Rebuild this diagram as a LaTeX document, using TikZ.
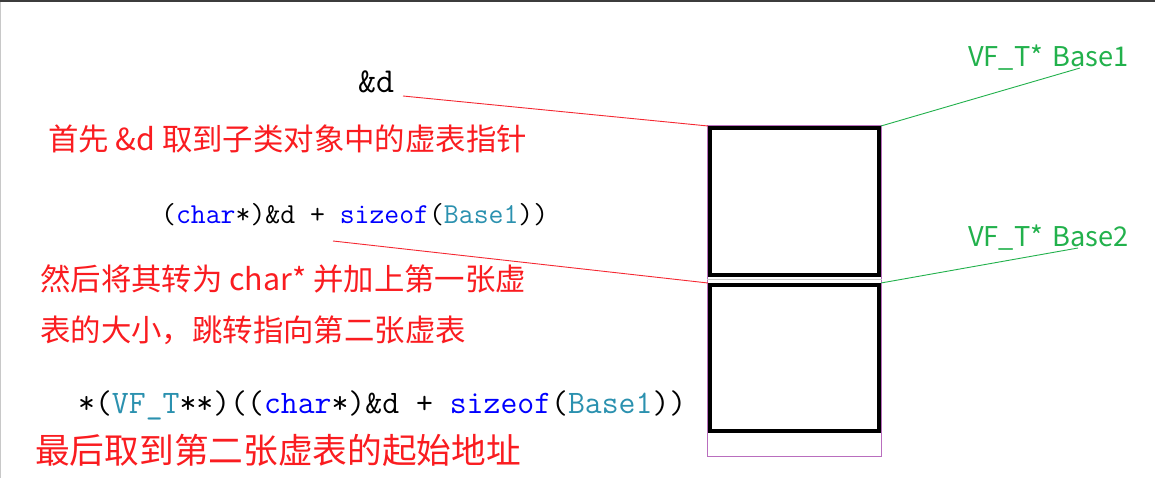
\documentclass[tikz,border=0pt]{standalone}
\usepackage{fontspec}
\newfontfamily\cjk{Noto Sans CJK SC}
\definecolor{cnred}{RGB}{250,28,32}
\definecolor{lnred}{RGB}{245,40,50}
\definecolor{lgreen}{RGB}{34,177,76}
\definecolor{kw}{RGB}{0,0,255}
\definecolor{ty}{RGB}{43,145,175}
\definecolor{framec}{RGB}{185,110,190}
\definecolor{topline}{RGB}{60,60,60}
\definecolor{sideline}{RGB}{200,200,200}
\begin{document}
\begin{tikzpicture}[x=1pt,y=-1pt,
  note/.style={anchor=base west, inner sep=0pt, text=cnred, font=\cjk\fontsize{30.4}{36}\selectfont},
  bignote/.style={note, font=\cjk\fontsize{34.7}{40}\selectfont},
  code/.style={anchor=base west, inner sep=0pt, font=\ttfamily\fontsize{28.9}{33}\selectfont},
  bigcode/.style={code, font=\ttfamily\fontsize{32.8}{37}\selectfont},
  tag/.style={anchor=base west, inner sep=0pt, text=lgreen, font=\cjk\fontsize{27.2}{32}\selectfont},
  slot/.style={draw=black, line width=4pt, inner sep=0pt},
  redlink/.style={draw=lnred, line width=0.9pt},
  greenlink/.style={draw=lgreen, line width=0.9pt}]
\useasboundingbox (0,0) rectangle (1155,478);
\fill[white] (0,0) rectangle (1155,478);
\draw[topline, line width=2pt] (0,1) -- (1155,1);
\draw[sideline, line width=1pt] (0.5,2) -- (0.5,478);

% memory layout
\node[draw=framec, line width=1pt, inner sep=0pt, minimum width=174pt, minimum height=331pt] (obj) at (794.5,291) {};
\draw[sideline, line width=1pt] (obj.west |- 0,279.5) -- (obj.east |- 0,279.5);
\node[slot, minimum width=169pt, minimum height=147pt] (vt1) at (794.5,201.5) {};
\node[slot, minimum width=169pt, minimum height=146pt] (vt2) at (794.5,358) {};

% texts
\node[code, font=\ttfamily\fontsize{35}{40}\selectfont] (amp) at (358,93) {\&d};
\node[note] (n1) at (48,151) {首先 \&d 取到子类对象中的虚表指针};
\node[code] (c1) at (161,223) {(\textcolor{kw}{char}*)\&d + \textcolor{kw}{sizeof}(\textcolor{ty}{Base1}))};
\node[note] (n2) at (40,290) {然后将其转为 char* 并加上第一张虚};
\node[note] (n3) at (40,341) {表的大小，跳转指向第二张虚表};
\node[bigcode] (c2) at (78,413) {*(\textcolor{ty}{VF\_T}**)((\textcolor{kw}{char}*)\&d + \textcolor{kw}{sizeof}(\textcolor{ty}{Base1}))};
\node[bignote] (n4) at (35,463) {最后取到第二张虚表的起始地址};
\node[tag] (t1) at (968,67) {VF\_T*\hspace{0.12em} Base1};
\node[tag] (t2) at (968,246) {VF\_T*\hspace{0.12em} Base2};

% connectors
\coordinate (a1) at (403,96);
\coordinate (a2) at (333,241);
\coordinate (g1) at (1080,68);
\coordinate (g2) at (1078,248);
\draw[redlink] (a1) -- (vt1.north west);
\draw[redlink] (a2) -- (vt2.north west);
\draw[greenlink] (vt1.north east) -- (g1);
\draw[greenlink] (vt2.north east) -- (g2);
\end{tikzpicture}
\end{document}
